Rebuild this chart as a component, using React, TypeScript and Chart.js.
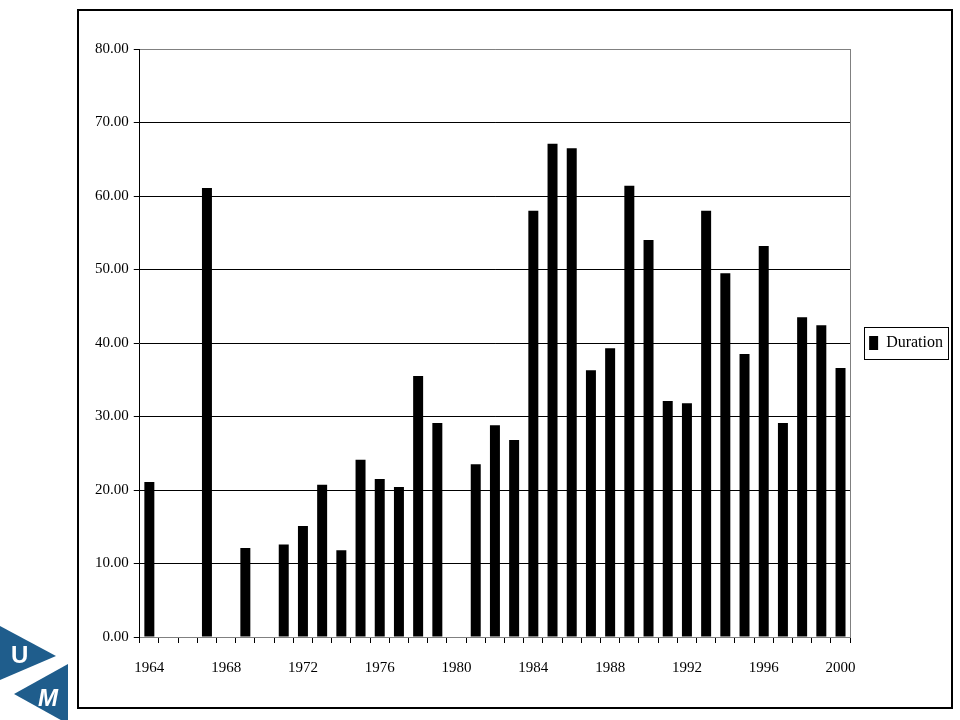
import React, { useEffect, useRef } from "react";
import { Chart, registerables } from "chart.js";

Chart.register(...registerables);

const years: string[] = [
  "1964","1965","1966","1967","1968","1969","1970","1971","1972","1973",
  "1974","1975","1976","1977","1978","1979","1980","1981","1982","1983",
  "1984","1985","1986","1987","1988","1989","1990","1991","1992","1993",
  "1994","1995","1996","1997","1998","1999","2000",
];

const duration: (number | null)[] = [
  21.1, null, null, 61.1, null, 12.1, null, 12.6, 15.1, 20.7,
  11.8, 24.1, 21.5, 20.4, 35.5, 29.1, null, 23.5, 28.8, 26.8,
  58.0, 67.1, 66.5, 36.3, 39.3, 61.4, 54.0, 32.1, 31.8, 58.0,
  49.5, 38.5, 53.2, 29.1, 43.5, 42.4, 36.6,
];

const seriesName = "Duration";
const yMin = 0;
const yMax = 80;
const yStep = 10;
const labelEvery = 4;

const framePlugin = {
  id: "framePlugin",
  afterDatasetsDraw(chart: any) {
    const { ctx, chartArea } = chart;
    ctx.save();
    ctx.strokeStyle = "#808080";
    ctx.lineWidth = 1;
    ctx.beginPath();
    const x = Math.round(chartArea.right) + 0.5;
    ctx.moveTo(x, chartArea.top);
    ctx.lineTo(x, chartArea.bottom);
    ctx.stroke();
    ctx.restore();
  },
  afterDraw(chart: any) {
    const lg = chart.legend;
    if (!lg || !lg.legendHitBoxes || !lg.legendHitBoxes.length) return;
    const hb = lg.legendHitBoxes[0];
    const { ctx } = chart;
    const cy = hb.top + hb.height / 2;
    ctx.save();
    ctx.strokeStyle = "#000";
    ctx.lineWidth = 1;
    ctx.strokeRect(
      Math.round(hb.left - 5) + 0.5,
      Math.round(cy - 16) + 0.5,
      Math.round(hb.width + 10),
      32
    );
    ctx.restore();
  },
};

function Logo() {
  const blue = "#1f5d8c";
  return (
    <svg
      width={80}
      height={110}
      viewBox="0 615 80 110"
      style={{ position: "fixed", left: 0, top: 615 }}
    >
      <polygon points="0,626 56,656 0,680" fill={blue} />
      <polygon points="68,664 14,694 68,724" fill={blue} />
      <text
        x={11}
        y={663}
        fill="#fff"
        fontFamily="Liberation Sans, Arial, sans-serif"
        fontWeight="bold"
        fontSize={24}
      >
        U
      </text>
      <text
        x={38}
        y={706}
        fill="#fff"
        fontFamily="Liberation Sans, Arial, sans-serif"
        fontWeight="bold"
        fontStyle="italic"
        fontSize={24}
      >
        M
      </text>
    </svg>
  );
}

export default function App() {
  const ref = useRef<HTMLCanvasElement | null>(null);

  useEffect(() => {
    if (!ref.current) return;
    const tickFont = { family: "'Liberation Serif', 'Times New Roman', serif", size: 15 };
    const chart = new Chart(ref.current, {
      type: "bar",
      data: {
        labels: years,
        datasets: [
          {
            label: seriesName,
            data: duration,
            backgroundColor: "#000",
            borderWidth: 0,
            barPercentage: 0.52,
            categoryPercentage: 1,
          },
        ],
      },
      plugins: [framePlugin],
      options: {
        animation: false,
        responsive: false,
        maintainAspectRatio: false,
        layout: { padding: { left: 90, top: 49, right: 7, bottom: 27 } },
        plugins: {
          title: { display: false },
          tooltip: { enabled: false },
          legend: {
            display: true,
            position: "right",
            fullSize: false,
            labels: {
              boxWidth: 9,
              boxHeight: 14,
              padding: 19,
              color: "#000",
              font: { family: "'Liberation Serif', 'Times New Roman', serif", size: 16 },
            },
          },
        },
        scales: {
          x: {
            type: "category",
            offset: true,
            grid: {
              offset: true,
              drawOnChartArea: false,
              drawTicks: true,
              tickLength: 6,
              tickColor: "#000",
              color: "#000",
            },
            border: { display: true, color: "#808080", width: 1 },
            ticks: {
              autoSkip: false,
              maxRotation: 0,
              minRotation: 0,
              padding: 16,
              color: "#000",
              font: tickFont,
              callback: (_v: any, i: number) => (i % labelEvery === 0 ? years[i] : ""),
            },
          },
          y: {
            min: yMin,
            max: yMax,
            grid: {
              color: (c: any) =>
                c.tick && (c.tick.value === yMax || c.tick.value === yMin) ? "#808080" : "#000",
              tickColor: "#000",
              tickLength: 6,
              lineWidth: 1,
            },
            border: { display: true, color: "#000", width: 1 },
            ticks: {
              stepSize: yStep,
              padding: 5,
              color: "#000",
              font: tickFont,
              callback: (v: any) => Number(v).toFixed(2),
            },
          },
        },
      },
    });
    return () => chart.destroy();
  }, []);

  return (
    <div style={{ position: "fixed", left: 0, top: 0, width: 960, height: 720, background: "#fff" }}>
      <canvas
        ref={ref}
        width={960}
        height={720}
        style={{ position: "absolute", left: 0, top: 0, width: 960, height: 720 }}
      />
      <div
        style={{
          position: "absolute",
          left: 77,
          top: 9,
          width: 876,
          height: 700,
          boxSizing: "border-box",
          border: "2px solid #000",
          pointerEvents: "none",
        }}
      />
      <Logo />
    </div>
  );
}
